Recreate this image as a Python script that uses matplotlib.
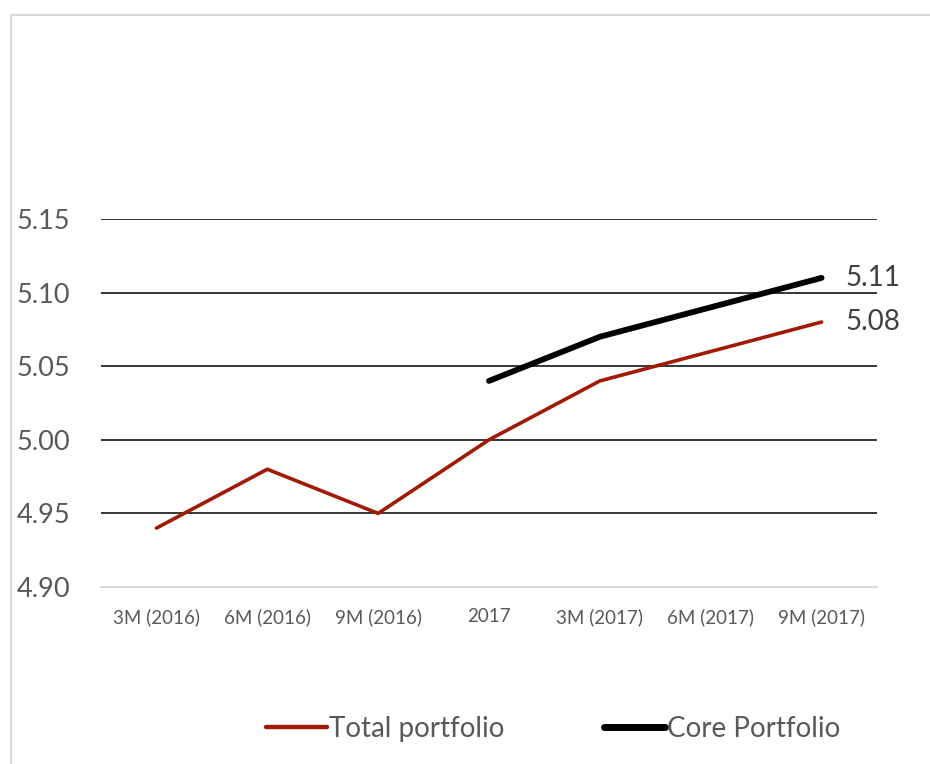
import numpy as np
import matplotlib
matplotlib.use("Agg")
from matplotlib import pyplot as plt
from matplotlib.lines import Line2D

categories = ["3M (2016)", "6M (2016)", "9M (2016)", "2017", "3M (2017)", "6M (2017)", "9M (2017)"]
total_portfolio = [4.94, 4.98, 4.95, 5.00, 5.04, 5.06, 5.08]
core_portfolio = [np.nan, np.nan, np.nan, 5.04, 5.07, 5.09, 5.11]
y_ticks = [4.90, 4.95, 5.00, 5.05, 5.10, 5.15]

plt.rcParams['font.family'] = ['Lato', 'DejaVu Sans']
TXT = '#595959'
RED = '#A11A06'

W, H = 930, 764
fig = plt.figure(figsize=(W / 100, H / 100), dpi=100)
# plot area in pixels: x 101..877, y 219..587
ax = fig.add_axes([101 / W, 1 - 587 / H, 776 / W, 368 / H])

x = np.arange(len(categories))
ax.plot(x, total_portfolio, color=RED, lw=2.6, solid_capstyle='round', label='Total portfolio', zorder=3)
ax.plot(x, core_portfolio, color='black', lw=4.2, solid_capstyle='round', label='Core Portfolio', zorder=3)

ax.set_xlim(-0.5, len(categories) - 0.5)
ax.set_ylim(4.90, 5.15)
ax.set_yticks(y_ticks)
ax.set_yticklabels([f"{v:.2f}" for v in y_ticks], fontsize=19.5, color=TXT)
ax.set_xticks(x)
ax.set_xticklabels(categories, fontsize=13.5, color=TXT)
ax.tick_params(axis='both', length=0)
ax.tick_params(axis='x', pad=15)
ax.tick_params(axis='y', pad=22)

for v in y_ticks[1:]:
    ax.axhline(v, color='black', lw=1.1, zorder=1)
for s in ['top', 'right', 'left']:
    ax.spines[s].set_visible(False)
ax.spines['bottom'].set_color('#D9D9D9')
ax.spines['bottom'].set_linewidth(1.5)

# end labels
ax.annotate(f"{core_portfolio[-1]:.2f}", (x[-1], core_portfolio[-1]), xytext=(17, 0),
            textcoords='offset points', va='center', ha='left', fontsize=20, color='#404040')
ax.annotate(f"{total_portfolio[-1]:.2f}", (x[-1], total_portfolio[-1]), xytext=(17, 0),
            textcoords='offset points', va='center', ha='left', fontsize=20, color='#404040')

leg = fig.legend(loc='center', bbox_to_anchor=(553 / W, 1 - 729 / H), ncol=2, frameon=False,
                 fontsize=20, handlelength=2.2, handletextpad=0.05, columnspacing=3.6)
for t in leg.get_texts():
    t.set_color(TXT)
leg.get_lines()[0].set_linewidth(3.2)
leg.get_lines()[1].set_linewidth(5)

# chart border (top and left visible)
fig.add_artist(Line2D([10.5 / W, 10.5 / W], [0, 1 - 14.5 / H], color='#D9D9D9', lw=1.5))
fig.add_artist(Line2D([10.5 / W, 1], [1 - 14.5 / H, 1 - 14.5 / H], color='#D9D9D9', lw=1.5))

fig.savefig('out.png', dpi=100, facecolor='white')
